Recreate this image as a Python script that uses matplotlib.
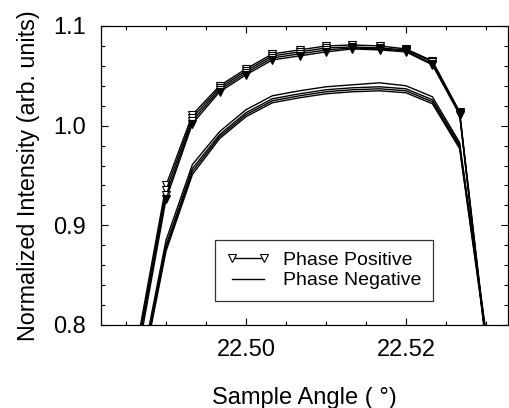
import matplotlib
matplotlib.use("Agg")
from matplotlib import pyplot as plt
from matplotlib.ticker import MultipleLocator, FixedLocator, FormatStrFormatter

plt.rcParams['font.family'] = ['Liberation Sans', 'DejaVu Sans']

# angles (deg) of the measured points
angles = [22.4867, 22.49, 22.4933, 22.4967, 22.50, 22.5033, 22.5067, 22.51,
          22.5133, 22.5167, 22.52, 22.5233, 22.5267, 22.53]

# phase positive runs
pos1 = [0.795, 0.940, 1.011, 1.040, 1.057, 1.072, 1.076, 1.080, 1.081, 1.080, 1.077, 1.065, 1.014, 0.785]
pos2 = [0.790, 0.935, 1.008, 1.038, 1.055, 1.070, 1.074, 1.078, 1.079, 1.078, 1.076, 1.064, 1.013, 0.783]
pos3 = [0.785, 0.930, 1.005, 1.036, 1.053, 1.068, 1.072, 1.076, 1.078, 1.077, 1.075, 1.062, 1.012, 0.781]
pos4 = [0.780, 0.926, 1.002, 1.034, 1.051, 1.066, 1.070, 1.074, 1.077, 1.076, 1.074, 1.061, 1.011, 0.779]

# phase negative runs
neg1 = [0.750, 0.885, 0.961, 0.994, 1.016, 1.030, 1.035, 1.039, 1.041, 1.043, 1.040, 1.029, 0.983, 0.793]
neg2 = [0.745, 0.880, 0.957, 0.991, 1.013, 1.027, 1.032, 1.036, 1.038, 1.039, 1.037, 1.026, 0.981, 0.791]
neg3 = [0.742, 0.877, 0.954, 0.989, 1.011, 1.025, 1.030, 1.034, 1.036, 1.037, 1.035, 1.024, 0.979, 0.789]
neg4 = [0.740, 0.874, 0.951, 0.987, 1.009, 1.023, 1.028, 1.032, 1.034, 1.035, 1.033, 1.022, 0.977, 0.787]

fig = plt.figure(figsize=(5.09, 4.08), dpi=100)
ax = fig.add_axes([101/509, 83/408, 407/509, 299/408])

# positive - triangles
for i, s in enumerate([pos1, pos2, pos3, pos4]):
    face = 'white' if i < 3 else 'black'
    ax.plot(angles, s, color='black', lw=1.0, marker='v', ms=6,
            mfc=face, mec='black', mew=0.8,
            label='Phase Positive' if i == 0 else None)

# negative - plain lines
for i, s in enumerate([neg1, neg2, neg3, neg4]):
    ax.plot(angles, s, color='black', lw=1.0,
            label='Phase Negative' if i == 0 else None)

ax.set_xlim(22.481875, 22.53275)
ax.set_ylim(0.8, 1.1)
ax.xaxis.set_major_locator(FixedLocator([22.50, 22.52]))
ax.xaxis.set_minor_locator(MultipleLocator(0.005))
ax.yaxis.set_major_locator(MultipleLocator(0.1))
ax.yaxis.set_minor_locator(MultipleLocator(0.02))
ax.xaxis.set_major_formatter(FormatStrFormatter('%.2f'))
ax.yaxis.set_major_formatter(FormatStrFormatter('%.1f'))

ax.tick_params(which='both', direction='in', top=True, right=True, labelsize=17)
ax.tick_params(which='major', length=5, width=0.8)
ax.tick_params(which='minor', length=3, width=0.8)
ax.tick_params(axis='y', pad=11)
ax.tick_params(axis='x', pad=10)

ax.set_xlabel('Sample Angle ( \u00b0)', fontsize=17, labelpad=19)
ax.set_ylabel('Normalized Intensity (arb. units)', fontsize=16.8, labelpad=9)

leg = ax.legend(loc='lower left', bbox_to_anchor=(0.28, 0.08), fontsize=14,
                numpoints=2, handlelength=2.2, handletextpad=0.7, frameon=True,
                fancybox=False, borderpad=0.6, labelspacing=0.15, borderaxespad=0)
leg.get_frame().set_edgecolor('black')
leg.get_frame().set_linewidth(0.9)

for sp in ax.spines.values():
    sp.set_linewidth(0.9)

plt.savefig('out.png', dpi=100)
